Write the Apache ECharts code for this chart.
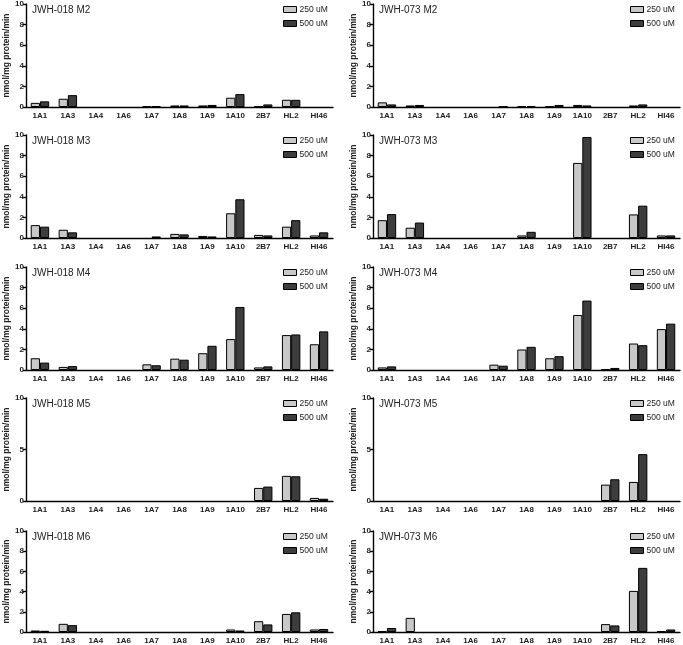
<!DOCTYPE html>
<html>
<head>
<meta charset="utf-8">
<script src="https://cdn.jsdelivr.net/npm/echarts@6/dist/echarts.min.js"></script>
<style>
html,body{margin:0;padding:0;background:#fff;}
#chart{width:683px;height:645px;}
</style>
</head>
<body>
<div id="chart"></div>
<script>
const categories = ['1A1','1A3','1A4','1A6','1A7','1A8','1A9','1A10','2B7','HL2','HI46'];
const seriesNames = ['250 uM','500 uM'];

// JWH-018 panels
const j018_M2_250 = [0.4, 0.8, 0, 0, 0.05, 0.15, 0.15, 0.9, 0.05, 0.7, 0];
const j018_M2_500 = [0.55, 1.15, 0, 0, 0.1, 0.15, 0.2, 1.25, 0.25, 0.7, 0];
const j018_M3_250 = [1.25, 0.8, 0, 0, 0, 0.4, 0.2, 2.4, 0.3, 1.1, 0.25];
const j018_M3_500 = [1.1, 0.55, 0, 0, 0.15, 0.35, 0.15, 3.76, 0.25, 1.73, 0.55];
const j018_M4_250 = [1.14, 0.3, 0, 0, 0.55, 1.1, 1.63, 3.0, 0.25, 3.39, 2.5];
const j018_M4_500 = [0.72, 0.38, 0, 0, 0.46, 1.0, 2.35, 6.12, 0.35, 3.45, 3.75];
const j018_M5_250 = [0, 0, 0, 0, 0, 0, 0, 0, 1.27, 2.44, 0.3];
const j018_M5_500 = [0, 0, 0, 0, 0, 0, 0, 0, 1.4, 2.4, 0.22];
const j018_M6_250 = [0.15, 0.81, 0, 0, 0, 0, 0, 0.25, 1.07, 1.79, 0.25];
const j018_M6_500 = [0.12, 0.68, 0, 0, 0, 0, 0, 0.15, 0.75, 1.95, 0.3];

// JWH-073 panels
const j073_M2_250 = [0.45, 0.15, 0, 0, 0, 0.1, 0.05, 0.2, 0, 0.15, 0];
const j073_M2_500 = [0.25, 0.2, 0, 0, 0.05, 0.1, 0.2, 0.15, 0, 0.25, 0];
const j073_M3_250 = [1.73, 1.0, 0, 0, 0, 0.25, 0, 7.29, 0, 2.29, 0.25];
const j073_M3_500 = [2.32, 1.5, 0, 0, 0, 0.6, 0, 9.8, 0, 3.14, 0.25];
const j073_M4_250 = [0.25, 0, 0, 0, 0.52, 1.99, 1.14, 5.34, 0.1, 2.57, 3.97];
const j073_M4_500 = [0.35, 0, 0, 0, 0.42, 2.25, 1.34, 6.74, 0.2, 2.41, 4.5];
const j073_M5_250 = [0, 0, 0, 0, 0, 0, 0, 0, 1.59, 1.85, 0];
const j073_M5_500 = [0, 0, 0, 0, 0, 0, 0, 0, 2.11, 4.55, 0];
const j073_M6_250 = [0.1, 1.4, 0, 0, 0, 0, 0, 0, 0.78, 4.07, 0.1];
const j073_M6_500 = [0.4, 0, 0, 0, 0, 0, 0, 0, 0.65, 6.35, 0.25];

const panelTitles = ['JWH-018 M2','JWH-073 M2','JWH-018 M3','JWH-073 M3','JWH-018 M4','JWH-073 M4','JWH-018 M5','JWH-073 M5','JWH-018 M6','JWH-073 M6'];
const panelData = [
  [j018_M2_250, j018_M2_500], [j073_M2_250, j073_M2_500],
  [j018_M3_250, j018_M3_500], [j073_M3_250, j073_M3_500],
  [j018_M4_250, j018_M4_500], [j073_M4_250, j073_M4_500],
  [j018_M5_250, j018_M5_500], [j073_M5_250, j073_M5_500],
  [j018_M6_250, j018_M6_500], [j073_M6_250, j073_M6_500]
];
const panelInterval = [2,2,2,2,2,2,5,5,2,2];

const rowTops = [4, 135, 267, 398, 531];
const rowH = 103;
const colLeft = [26, 373];
const colW = 307;
const FONT = '"Liberation Sans", Arial, sans-serif';
const colors = ['#c8c8c8', '#3d3d3d'];

const grid = [], xAxis = [], yAxis = [], series = [], title = [], legend = [];
panelTitles.forEach((t, i) => {
  const r = Math.floor(i / 2), c = i % 2;
  const top = rowTops[r], left = colLeft[c];
  grid.push({left: left, top: top, width: colW, height: rowH, containLabel: false});
  xAxis.push({
    type: 'category', gridIndex: i, data: categories,
    axisLine: {lineStyle: {color: '#000', width: 1.4}},
    axisTick: {show: false},
    axisLabel: {fontFamily: FONT, fontSize: 8, fontWeight: 'bold', color: '#222', margin: 5, interval: 0}
  });
  yAxis.push({
    type: 'value', gridIndex: i, min: 0, max: 10, interval: panelInterval[i],
    name: 'nmol/mg protein/min', nameLocation: 'middle', nameGap: 15,
    nameTextStyle: {fontFamily: FONT, fontSize: 8.5, fontWeight: 'bold', color: '#222'},
    splitLine: {show: false},
    axisLine: {show: true, lineStyle: {color: '#000', width: 1.4}},
    axisTick: {show: true, length: 3, lineStyle: {color: '#000', width: 1.4}},
    axisLabel: {fontFamily: FONT, fontSize: 8, fontWeight: 'bold', color: '#222', margin: 2}
  });
  panelData[i].forEach((arr, k) => {
    series.push({
      type: 'bar', name: seriesNames[k], xAxisIndex: i, yAxisIndex: i,
      data: arr.map(v => (v === 0 ? '-' : v)), barGap: '0%', barCategoryGap: '34%',
      itemStyle: {color: colors[k], borderColor: '#000', borderWidth: 1},
      emphasis: {disabled: true}, animation: false
    });
  });
  title.push({
    text: t, left: left + 6, top: top + 1, padding: 0,
    textStyle: {fontFamily: FONT, fontSize: 10, fontWeight: 'normal', color: '#222'}
  });
  legend.push({
    data: seriesNames, orient: 'vertical', left: left + 257, top: top + 1,
    icon: 'rect', itemWidth: 13, itemHeight: 6, itemGap: 5, padding: 0,
    itemStyle: {borderColor: '#000', borderWidth: 1},
    textStyle: {fontFamily: FONT, fontSize: 8.5, color: '#222', padding: [0,0,0,-2]},
    selectedMode: false
  });
});

const chart = echarts.init(document.getElementById('chart'), null, {renderer: 'canvas'});
chart.setOption({animation: false, backgroundColor: '#fff', grid, xAxis, yAxis, series, title, legend});
</script>
</body>
</html>
